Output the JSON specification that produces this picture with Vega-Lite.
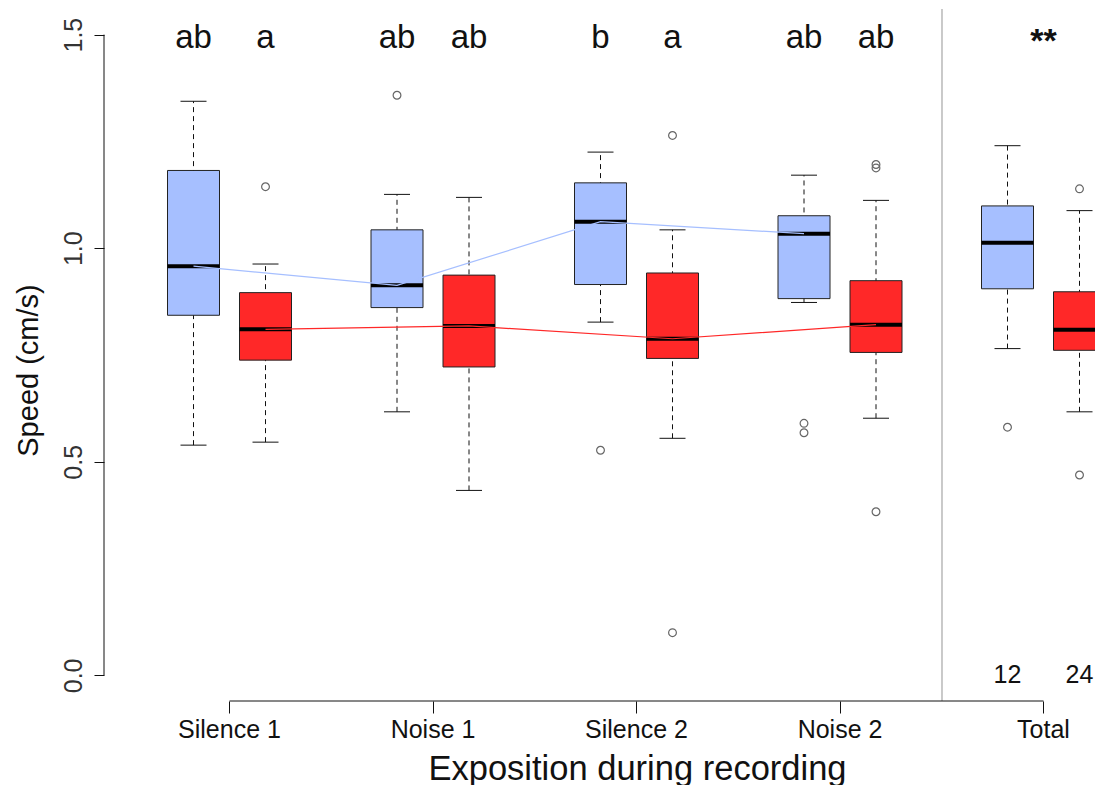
{
  "$schema": "https://vega.github.io/schema/vega-lite/v6.json",
  "width": 991,
  "height": 692,
  "autosize": {"type": "none"},
  "padding": {"left": 104, "top": 9, "right": 0, "bottom": 84},
  "background": "white",
  "config": {
    "view": {"stroke": null},
    "font": "Liberation Sans",
    "text": {"font": "Liberation Sans"},
    "axisX": {"domain": false, "ticks": true, "tickSize": 12, "tickColor": "#111", "tickWidth": 1, "bandPosition": 0.5,
      "labelFontSize": 25, "labelColor": "#111", "labelAngle": 0, "labelPadding": 4,
      "titleFontSize": 34.5, "titleFontWeight": "normal", "titleColor": "#111", "titlePadding": 10, "titleX": 533, "grid": false},
    "axisY": {"domain": false, "tickSize": 10, "tickColor": "#111", "tickWidth": 1,
      "labelAngle": -90, "labelFontSize": 25, "labelColor": "#333", "labelPadding": 8,
      "titleFontSize": 29, "titleFontWeight": "normal", "titleColor": "#111", "titlePadding": 18, "titleY": 361, "grid": false}
  },
  "datasets": {
    "boxes": [
      {"group": "Silence 1", "type": "A", "low": 0.539, "q1": 0.843, "median": 0.958, "q3": 1.182, "high": 1.344},
      {"group": "Silence 1", "type": "B", "low": 0.546, "q1": 0.738, "median": 0.810, "q3": 0.896, "high": 0.963},
      {"group": "Noise 1", "type": "A", "low": 0.617, "q1": 0.861, "median": 0.913, "q3": 1.043, "high": 1.126},
      {"group": "Noise 1", "type": "B", "low": 0.433, "q1": 0.722, "median": 0.818, "q3": 0.937, "high": 1.119},
      {"group": "Silence 2", "type": "A", "low": 0.827, "q1": 0.915, "median": 1.062, "q3": 1.153, "high": 1.225},
      {"group": "Silence 2", "type": "B", "low": 0.555, "q1": 0.742, "median": 0.788, "q3": 0.942, "high": 1.043},
      {"group": "Noise 2", "type": "A", "low": 0.873, "q1": 0.882, "median": 1.034, "q3": 1.076, "high": 1.171},
      {"group": "Noise 2", "type": "B", "low": 0.602, "q1": 0.756, "median": 0.821, "q3": 0.924, "high": 1.112},
      {"group": "Total", "type": "A", "low": 0.765, "q1": 0.905, "median": 1.013, "q3": 1.099, "high": 1.240},
      {"group": "Total", "type": "B", "low": 0.617, "q1": 0.761, "median": 0.809, "q3": 0.898, "high": 1.088}
    ],
    "outliers": [
      {"group": "Silence 1", "type": "B", "value": 1.144},
      {"group": "Noise 1", "type": "A", "value": 1.358},
      {"group": "Silence 2", "type": "A", "value": 0.527},
      {"group": "Silence 2", "type": "B", "value": 1.264},
      {"group": "Silence 2", "type": "B", "value": 0.100},
      {"group": "Noise 2", "type": "A", "value": 0.590},
      {"group": "Noise 2", "type": "A", "value": 0.568},
      {"group": "Noise 2", "type": "B", "value": 1.196},
      {"group": "Noise 2", "type": "B", "value": 1.188},
      {"group": "Noise 2", "type": "B", "value": 0.383},
      {"group": "Total", "type": "A", "value": 0.581},
      {"group": "Total", "type": "B", "value": 1.139},
      {"group": "Total", "type": "B", "value": 0.469}
    ],
    "letters": [
      {"group": "Silence 1", "type": "A", "label": "ab"},
      {"group": "Silence 1", "type": "B", "label": "a"},
      {"group": "Noise 1", "type": "A", "label": "ab"},
      {"group": "Noise 1", "type": "B", "label": "ab"},
      {"group": "Silence 2", "type": "A", "label": "b"},
      {"group": "Silence 2", "type": "B", "label": "a"},
      {"group": "Noise 2", "type": "A", "label": "ab"},
      {"group": "Noise 2", "type": "B", "label": "ab"}
    ],
    "counts": [
      {"group": "Total", "type": "A", "label": "12"},
      {"group": "Total", "type": "B", "label": "24"}
    ],
    "stars": [
      {"group": "Total", "label": "**"}
    ]
  },
  "layer": [
    {
      "data": {"name": "boxes"},
      "mark": {"type": "rule", "color": "#111", "strokeWidth": 1, "strokeDash": [5, 4]},
      "encoding": {
        "x": {"field": "group", "type": "nominal",
          "scale": {"domain": ["Silence 1", "Noise 1", "Silence 2", "Noise 2", "Total"], "paddingInner": 0.5, "paddingOuter": 0.1849, "align": 0.9917, "round": false},
          "title": "Exposition during recording"},
        "xOffset": {"field": "type", "type": "nominal", "scale": {"domain": ["A", "B"], "paddingInner": 0.5868, "paddingOuter": 0, "round": false}},
        "y": {"field": "low", "type": "quantitative",
          "scale": {"domain": [-0.06, 1.56], "nice": false, "zero": false},
          "title": "Speed (cm/s)",
          "axis": {"values": [0, 0.5, 1, 1.5], "format": ".1f"}},
        "y2": {"field": "high"}
      }
    },
    {
      "data": {"name": "boxes"},
      "mark": {"type": "rule", "color": "#c8c8c8", "strokeWidth": 1},
      "encoding": {
        "x": {"datum": "Noise 2", "type": "nominal", "bandPosition": 1.5}
      }
    },
    {
      "data": {"name": "boxes"},
      "mark": {"type": "tick", "orient": "horizontal", "size": 26, "thickness": 1, "color": "#111", "opacity": 1},
      "encoding": {
        "x": {"field": "group", "type": "nominal"},
        "xOffset": {"field": "type", "type": "nominal"},
        "y": {"field": "low", "type": "quantitative"}
      }
    },
    {
      "data": {"name": "boxes"},
      "mark": {"type": "tick", "orient": "horizontal", "size": 26, "thickness": 1, "color": "#111", "opacity": 1},
      "encoding": {
        "x": {"field": "group", "type": "nominal"},
        "xOffset": {"field": "type", "type": "nominal"},
        "y": {"field": "high", "type": "quantitative"}
      }
    },
    {
      "data": {"name": "boxes"},
      "mark": {"type": "bar", "size": 52, "stroke": "#222", "strokeWidth": 1, "opacity": 1},
      "encoding": {
        "x": {"field": "group", "type": "nominal"},
        "xOffset": {"field": "type", "type": "nominal"},
        "y": {"field": "q1", "type": "quantitative"},
        "y2": {"field": "q3"},
        "color": {"field": "type", "type": "nominal", "scale": {"domain": ["A", "B"], "range": ["#A6BFFF", "#FF2828"]}, "legend": null}
      }
    },
    {
      "data": {"name": "boxes"},
      "mark": {"type": "tick", "orient": "horizontal", "size": 52, "thickness": 4, "color": "#000", "opacity": 1},
      "encoding": {
        "x": {"field": "group", "type": "nominal"},
        "xOffset": {"field": "type", "type": "nominal"},
        "y": {"field": "median", "type": "quantitative"}
      }
    },
    {
      "data": {"name": "boxes"},
      "transform": [{"filter": "datum.group !== 'Total'"}],
      "mark": {"type": "line", "strokeWidth": 1.2},
      "encoding": {
        "x": {"field": "group", "type": "nominal"},
        "xOffset": {"field": "type", "type": "nominal"},
        "y": {"field": "median", "type": "quantitative"},
        "color": {"field": "type", "type": "nominal", "legend": null}
      }
    },
    {
      "data": {"name": "outliers"},
      "mark": {"type": "point", "shape": "circle", "filled": false, "size": 60, "stroke": "#666", "strokeWidth": 1.2, "opacity": 1},
      "encoding": {
        "x": {"field": "group", "type": "nominal"},
        "xOffset": {"field": "type", "type": "nominal"},
        "y": {"field": "value", "type": "quantitative"}
      }
    },
    {
      "data": {"name": "letters"},
      "mark": {"type": "text", "fontSize": 33, "baseline": "middle", "align": "center", "dy": 3, "color": "#111"},
      "encoding": {
        "x": {"field": "group", "type": "nominal"},
        "xOffset": {"field": "type", "type": "nominal"},
        "y": {"datum": 1.5, "type": "quantitative"},
        "text": {"field": "label"}
      }
    },
    {
      "data": {"name": "stars"},
      "mark": {"type": "text", "fontSize": 34, "fontWeight": "bold", "baseline": "middle", "align": "center", "dy": 7, "color": "#111"},
      "encoding": {
        "x": {"field": "group", "type": "nominal"},
        "y": {"datum": 1.5, "type": "quantitative"},
        "text": {"field": "label"}
      }
    },
    {
      "data": {"name": "counts"},
      "mark": {"type": "text", "fontSize": 25, "baseline": "middle", "align": "center", "color": "#111"},
      "encoding": {
        "x": {"field": "group", "type": "nominal"},
        "xOffset": {"field": "type", "type": "nominal"},
        "y": {"datum": 0, "type": "quantitative"},
        "text": {"field": "label"}
      }
    },
    {
      "data": {"name": "stars"},
      "mark": {"type": "rule", "color": "#111", "strokeWidth": 1},
      "encoding": {
        "x": {"datum": "Silence 1", "type": "nominal", "bandPosition": 0.5},
        "x2": {"datum": "Total", "bandPosition": 0.5},
        "y": {"datum": -0.06, "type": "quantitative"}
      }
    },
    {
      "data": {"name": "stars"},
      "mark": {"type": "rule", "color": "#111", "strokeWidth": 1},
      "encoding": {
        "x": {"datum": "Silence 1", "type": "nominal", "bandPosition": -0.7334},
        "y": {"datum": 0, "type": "quantitative"},
        "y2": {"datum": 1.5}
      }
    }
  ]
}
